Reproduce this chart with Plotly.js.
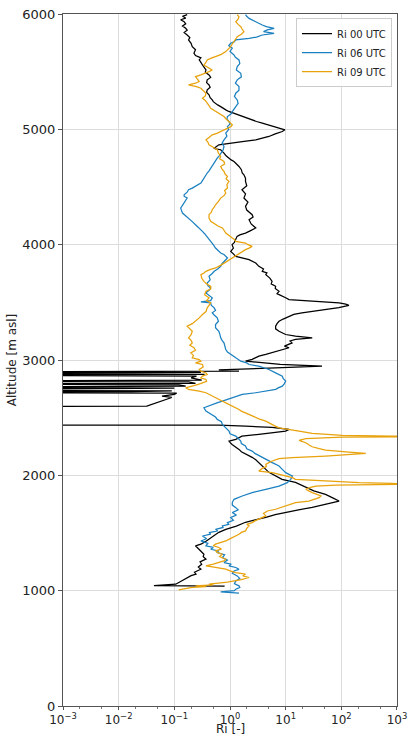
<!DOCTYPE html>
<html>
<head>
<meta charset="utf-8">
<script src="https://cdn.plot.ly/plotly-3.0.1.min.js"></script>
<style>html,body{margin:0;padding:0;background:#fff;}#chart{width:408px;height:737px;}</style>
</head>
<body>
<div id="chart"></div>
<script>
// Off-axis (negative / non-positive Ri) points are given as 1e-6 so they run to the left edge.
const alt00 = [1040,1044,1056,1070,1085,1100,1117,1130,1143,1160,1186,1205,1229,1250,1273,1295,1316,1345,1377,1388,1403,1425,1446,1475,1506,1532,1560,1593,1615,1636,1660,1680,1700,1723,1750,1777,1805,1835,1865,1896,1939,1965,1994,2026,2052,2080,2112,2135,2156,2182,2205,2225,2250,2268,2285,2297,2312,2340,2355,2370,2383,2398,2415,2427,2435,2437,2596,2600,2615,2631,2645,2658,2675,2687,2701,2712,2718,2725,2732,2740,2750,2757,2765,2773,2785,2792,2797,2810,2818,2825,2845,2860,2868,2875,2884,2893,2897,2903,2915,2930,2946,2962,2978,2990,3005,3033,3048,3060,3076,3090,3106,3120,3148,3165,3178,3192,3206,3221,3235,3249,3270,3293,3315,3336,3355,3379,3395,3409,3425,3437,3455,3474,3485,3495,3509,3524,3540,3552,3575,3596,3620,3639,3660,3682,3710,3740,3755,3769,3790,3812,3841,3870,3885,3899,3920,3942,3970,4000,4020,4043,4072,4085,4100,4120,4145,4180,4216,4240,4260,4300,4332,4370,4404,4440,4476,4510,4548,4577,4606,4621,4650,4678,4700,4721,4735,4750,4770,4794,4810,4823,4830,4837,4866,4880,4894,4909,4925,4938,4960,4981,4996,5010,5024,5040,5053,5068,5082,5097,5117,5130,5140,5155,5169,5185,5197,5212,5226,5240,5255,5275,5299,5320,5342,5365,5385,5405,5429,5450,5472,5495,5515,5535,5558,5580,5602,5620,5640,5660,5690,5717,5745,5775,5795,5818,5840,5860,5876,5895,5915,5933,5950,5965,5980,5995];
const ri00 = [0.8,0.043,0.106,0.12,0.137,0.16,0.18,0.2,0.245,0.23,0.30,0.27,0.31,0.29,0.37,0.33,0.34,0.29,0.255,0.24,0.30,0.36,0.42,0.52,0.63,0.84,1.3,1.9,3.0,4.4,6.5,10,17,30,55,91,70,52,32,23,15,8.6,6.6,5.0,4.4,3.8,3.3,2.9,2.5,1.9,1.6,1.45,1.2,1.09,1.0,0.96,1.27,1.64,3.3,6,10,11.5,5.7,1.9,0.63,1e-6,1e-6,0.032,0.04,0.048,0.06,0.07,0.09,0.06,0.1,0.11,1e-6,0.017,0.09,1e-6,0.053,0.1,1e-6,0.16,0.12,1e-6,0.24,0.18,1e-6,0.31,0.2,0.25,1e-6,0.35,1e-6,0.3,1e-6,1.45,0.63,5,45,8,3.3,1.9,2.5,3.3,4.4,5.5,6.6,8.5,11.5,9.5,13,12,15,30,15,10,8.5,7.6,6.6,6.6,7,7.6,9,11.5,14,19.6,35,52,90,137,120,91,26,11.5,10,8.6,7,7.6,6.5,6.6,5.5,5.7,5.2,4.4,4.6,3.8,4.0,3.3,2.9,2.2,1.64,1.27,1.15,1.03,1.15,1.09,1.2,1.27,1.34,1.5,1.9,2.3,2.9,2.4,2.2,2.6,2.5,2.0,1.9,2.1,1.78,1.9,1.64,2.0,1.9,1.9,1.78,1.66,1.6,1.45,1.3,1.18,1.05,0.96,0.85,0.78,0.72,0.68,0.55,0.52,0.63,0.96,1.66,2.9,4.0,5.0,6.5,8.7,9.7,7.5,5.75,4.5,3.8,3.0,2.5,1.9,1.45,1.25,1.1,0.95,0.84,0.72,0.68,0.6,0.55,0.5,0.48,0.44,0.42,0.38,0.39,0.44,0.42,0.38,0.39,0.45,0.42,0.36,0.37,0.34,0.32,0.30,0.28,0.3,0.24,0.225,0.24,0.21,0.2,0.18,0.19,0.17,0.15,0.17,0.16,0.14,0.16,0.15,0.13,0.16,0.14,0.17];

const alt06 = [978,990,1000,1013,1028,1042,1060,1085,1105,1128,1150,1171,1185,1201,1215,1230,1244,1265,1287,1310,1331,1345,1359,1375,1388,1410,1431,1450,1474,1490,1504,1518,1532,1548,1561,1575,1590,1610,1634,1655,1677,1700,1720,1742,1764,1792,1821,1850,1879,1907,1937,1965,1994,2009,2023,2052,2081,2110,2139,2167,2190,2210,2230,2254,2275,2297,2320,2340,2360,2383,2412,2442,2465,2485,2505,2528,2557,2586,2600,2615,2630,2643,2658,2673,2701,2716,2730,2745,2760,2773,2795,2817,2840,2860,2888,2918,2946,2961,2975,2990,3019,3048,3070,3091,3120,3149,3170,3192,3220,3249,3280,3307,3336,3365,3390,3409,3430,3452,3475,3495,3505,3515,3539,3560,3582,3605,3625,3645,3668,3695,3726,3750,3769,3790,3812,3835,3855,3870,3885,3899,3915,3928,3950,3971,4000,4029,4050,4072,4095,4115,4145,4173,4200,4231,4250,4274,4295,4318,4340,4361,4385,4404,4420,4433,4455,4476,4490,4505,4520,4534,4555,4577,4600,4621,4640,4664,4685,4707,4730,4750,4770,4794,4820,4851,4880,4909,4940,4967,5000,5024,5045,5068,5090,5111,5135,5154,5175,5197,5225,5255,5285,5313,5340,5371,5400,5429,5455,5486,5515,5544,5570,5602,5625,5645,5675,5703,5725,5746,5760,5775,5789,5800,5818,5833,5848,5862,5876,5890,5905,5920,5933,5950,5962,5980,5995];
const ri06 = [1.45,0.68,1.2,1.27,1.5,1.45,1.2,1.27,1.5,1.35,1.1,1.18,1.45,1.27,0.96,1.05,0.78,0.9,0.73,0.8,0.59,0.62,0.45,0.5,0.37,0.4,0.30,0.38,0.32,0.45,0.42,0.6,0.55,0.75,0.73,0.95,0.9,1.15,1.03,1.3,1.1,1.4,1.27,1.1,1.1,1.18,1.66,2.5,4.4,7.6,10.7,12.3,13.2,11.5,10,8.7,7.6,5.75,4.4,3.3,2.8,2.5,2.0,1.9,1.6,1.56,1.4,1.27,1.0,0.96,0.84,0.73,0.7,0.59,0.55,0.45,0.37,0.34,0.4,0.48,0.6,0.73,0.9,1.1,1.66,2.9,4.4,6.6,7.5,8.7,9.5,10,9,8.7,6.6,5.0,3.3,2.2,2.0,1.56,1.27,1.03,0.9,0.84,0.8,0.78,0.72,0.68,0.66,0.63,0.55,0.55,0.62,0.59,0.52,0.48,0.55,0.52,0.46,0.45,0.3,0.45,0.48,0.42,0.37,0.42,0.45,0.4,0.39,0.44,0.42,0.48,0.52,0.6,0.68,0.72,0.78,0.85,0.9,0.84,0.78,0.68,0.6,0.55,0.5,0.45,0.41,0.39,0.35,0.32,0.28,0.24,0.21,0.18,0.16,0.14,0.135,0.13,0.14,0.15,0.16,0.17,0.15,0.15,0.17,0.18,0.21,0.24,0.27,0.30,0.32,0.34,0.37,0.39,0.42,0.45,0.48,0.52,0.56,0.59,0.64,0.68,0.75,0.78,0.72,0.78,0.88,0.84,0.95,0.9,1.0,0.96,0.88,0.9,1.05,1.1,1.2,1.27,1.4,1.35,1.2,1.27,1.45,1.45,1.25,1.35,1.6,1.56,1.3,1.35,1.5,1.45,1.25,1.18,1.0,1.1,0.95,1.03,1.2,1.27,2.2,3.0,3.8,6.2,4.0,4.7,6.2,4.5,3.8,3.3,2.9,2.4,2.2,2.0,1.9];

const alt09 = [1007,1020,1028,1036,1042,1050,1056,1075,1095,1114,1128,1143,1157,1172,1186,1201,1215,1230,1244,1260,1273,1295,1316,1330,1345,1360,1374,1390,1403,1420,1431,1445,1460,1475,1489,1505,1518,1540,1561,1575,1590,1605,1619,1635,1648,1670,1691,1706,1720,1734,1750,1764,1777,1795,1807,1821,1835,1850,1865,1879,1895,1907,1916,1922,1925,1930,1937,1951,1965,1980,1994,2010,2023,2037,2060,2075,2095,2110,2124,2144,2153,2167,2182,2190,2202,2219,2232,2248,2265,2283,2303,2318,2332,2335,2340,2346,2364,2383,2398,2412,2427,2442,2455,2470,2490,2514,2530,2543,2557,2571,2585,2600,2615,2628,2645,2658,2672,2687,2700,2716,2730,2745,2759,2773,2788,2802,2815,2831,2845,2860,2875,2888,2903,2918,2940,2961,2975,2990,3004,3019,3040,3062,3085,3106,3128,3149,3170,3192,3220,3249,3270,3293,3315,3336,3365,3394,3420,3452,3475,3495,3515,3539,3565,3596,3615,3639,3660,3682,3710,3740,3755,3769,3785,3798,3825,3850,3870,3885,3900,3914,3935,3957,3970,3985,4000,4014,4029,4045,4058,4080,4101,4125,4145,4160,4173,4190,4202,4230,4260,4280,4303,4325,4346,4375,4404,4425,4447,4470,4491,4520,4548,4570,4592,4610,4635,4655,4678,4700,4721,4745,4765,4795,4823,4845,4866,4890,4909,4930,4952,4965,4981,4995,5010,5025,5039,5055,5068,5090,5111,5135,5154,5170,5183,5205,5226,5250,5270,5290,5313,5335,5356,5370,5385,5400,5414,5435,5457,5472,5486,5500,5515,5535,5558,5580,5602,5615,5631,5650,5674,5695,5717,5740,5760,5780,5804,5825,5847,5870,5890,5910,5933,5955,5976,5995];
const ri09 = [0.12,0.18,0.21,0.37,0.24,0.5,0.42,0.9,1.6,2.2,1.7,1.9,1.27,1.0,0.84,0.55,0.37,0.5,0.63,0.8,0.84,0.65,0.73,0.6,0.55,0.7,0.63,0.5,0.55,0.75,0.84,0.95,1.1,1.3,1.45,1.6,1.9,2.0,2.2,2.0,2.5,2.8,3.3,3.8,4.4,4.0,4.7,6.6,8,10,12,15,26,35,40,43,35,30,26,23,28,35,80,500,3000,800,207,52,15,13.2,10,8,5.75,3.3,3.8,4.5,4.4,5,5.75,7.6,13.2,52,207,275,137,52,40,30,26,23,17.4,23,104,3000,800,104,30,17.4,11.5,7.6,6.5,5.75,5.0,4.4,3.3,2.5,2.2,1.9,1.6,1.45,1.25,1.1,0.95,0.84,0.72,0.63,0.55,0.48,0.43,0.37,0.28,0.18,0.16,0.21,0.27,0.32,0.38,0.37,0.3,0.32,0.39,0.37,0.3,0.28,0.33,0.32,0.24,0.3,0.28,0.21,0.22,0.197,0.24,0.225,0.19,0.21,0.2,0.18,0.2,0.21,0.19,0.17,0.21,0.24,0.28,0.32,0.37,0.39,0.42,0.45,0.38,0.42,0.35,0.37,0.45,0.45,0.38,0.34,0.31,0.30,0.34,0.37,0.45,0.55,0.7,0.84,1.0,1.1,1.2,1.35,1.6,1.9,2.2,2.5,2.1,1.9,1.27,1.2,1.1,0.95,0.84,0.78,0.73,0.62,0.55,0.5,0.45,0.42,0.42,0.46,0.48,0.52,0.55,0.62,0.68,0.78,0.84,0.8,0.9,0.88,0.96,0.85,0.9,0.82,0.78,0.72,0.68,0.8,0.78,0.65,0.68,0.62,0.59,0.5,0.42,0.4,0.37,0.42,0.48,0.58,0.68,0.82,0.96,1.05,1.1,1.0,0.96,0.85,0.78,0.65,0.55,0.5,0.45,0.42,0.39,0.36,0.32,0.36,0.37,0.33,0.30,0.25,0.18,0.24,0.28,0.26,0.24,0.3,0.37,0.42,0.48,0.4,0.34,0.37,0.39,0.45,0.55,0.7,0.84,0.95,1.03,1.1,1.18,1.25,1.35,1.6,1.78,1.65,1.56,1.4,1.27,1.4,1.45,1.35];

const seriesNames = ['Ri 00 UTC','Ri 06 UTC','Ri 09 UTC'];
const seriesColors = ['#000000','#1a80c0','#e8a20c'];

const xTickVals = [0.001, 0.01, 0.1, 1, 10, 100, 1000];
const xTickText = ['10<sup>\u22123</sup>','10<sup>\u22122</sup>','10<sup>\u22121</sup>','10<sup>0</sup>','10<sup>1</sup>','10<sup>2</sup>','10<sup>3</sup>'];
const yTickVals = [0, 1000, 2000, 3000, 4000, 5000, 6000];
const yTickText = ['0','1000','2000','3000','4000','5000','6000'];
const xTitle = 'Ri [-]';
const yTitle = 'Altitude [m asl]';

const traces = [
  {x: ri00, y: alt00, name: seriesNames[0], line: {color: seriesColors[0], width: 1.25}},
  {x: ri06, y: alt06, name: seriesNames[1], line: {color: seriesColors[1], width: 1.25}},
  {x: ri09, y: alt09, name: seriesNames[2], line: {color: seriesColors[2], width: 1.25}}
].map(t => Object.assign({type: 'scatter', mode: 'lines', cliponaxis: true}, t));

const font = {family: 'DejaVu Sans', size: 13, color: '#222'};
const axisCommon = {
  showline: true, mirror: true, linecolor: '#555', linewidth: 1,
  showgrid: true, gridcolor: '#dcdcdc', gridwidth: 1,
  ticks: 'outside', ticklen: 4, tickcolor: '#555', tickwidth: 1,
  zeroline: false, tickfont: font, ticklabeloverflow: 'allow'
};

const layout = {
  width: 408, height: 737,
  margin: {l: 63, r: 11, t: 14, b: 31},
  paper_bgcolor: '#fff', plot_bgcolor: '#fff',
  font: font,
  showlegend: true,
  xaxis: Object.assign({}, axisCommon, {
    type: 'log', range: [-3, 3.0001], ticklen: 3,
    tickfont: {family: 'DejaVu Sans', size: 12, color: '#222'},
    tickmode: 'array', tickvals: xTickVals, ticktext: xTickText,
    minor: {ticks: 'outside', ticklen: 2, tickcolor: '#777', showgrid: false}
  }),
  yaxis: Object.assign({}, axisCommon, {
    range: [0, 6000],
    tickmode: 'array', tickvals: yTickVals, ticktext: yTickText,
    title: {text: yTitle, font: {family: 'DejaVu Sans', size: 12, color: '#222'}, standoff: 3}
  }),
  annotations: [{
    text: xTitle, xref: 'paper', yref: 'paper', x: 0.5, y: -0.0448,
    xanchor: 'center', yanchor: 'bottom', showarrow: false, borderpad: 0,
    font: {family: 'DejaVu Sans', size: 12, color: '#222'}
  }],
  legend: {
    x: 0.985, y: 0.994, xanchor: 'right', yanchor: 'top',
    bgcolor: 'rgba(255,255,255,0.9)', bordercolor: '#cccccc', borderwidth: 1,
    font: {family: 'DejaVu Sans', size: 10, color: '#222'},
    itemwidth: 30, tracegroupgap: 0
  }
};

Plotly.newPlot('chart', traces, layout, {displayModeBar: false, staticPlot: true});
</script>
</body>
</html>
